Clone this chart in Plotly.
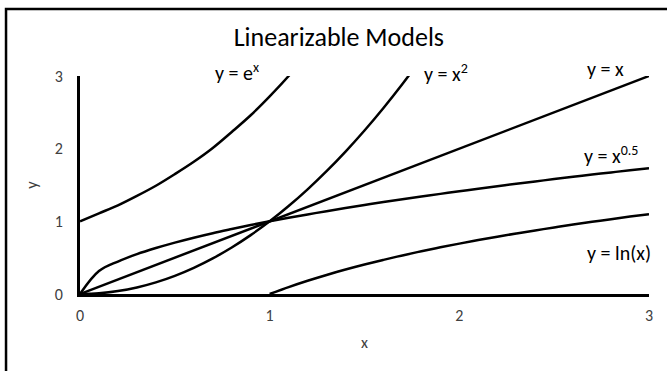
import plotly.graph_objects as go

# values
x_grid = [0.0, 0.1, 0.2, 0.3, 0.4, 0.5, 0.6, 0.7, 0.8, 0.9, 1.0,
          1.1, 1.2, 1.3, 1.4, 1.5, 1.6, 1.7, 1.8, 1.9, 2.0,
          2.1, 2.2, 2.3, 2.4, 2.5, 2.6, 2.7, 2.8, 2.9, 3.0]
y_exp = [1.00, 1.11, 1.22, 1.35, 1.49, 1.65, 1.82, 2.01, 2.23, 2.46, 2.72,
         3.00, 3.32]
y_sq = [0.00, 0.01, 0.04, 0.09, 0.16, 0.25, 0.36, 0.49, 0.64, 0.81, 1.00,
        1.21, 1.44, 1.69, 1.96, 2.25, 2.56, 2.89, 3.24]
x_lin = [0.0, 3.0]
y_lin = [0.0, 3.0]
y_sqrt = [0.000, 0.316, 0.447, 0.548, 0.632, 0.707, 0.775, 0.837, 0.894, 0.949, 1.000,
          1.049, 1.095, 1.140, 1.183, 1.225, 1.265, 1.304, 1.342, 1.378, 1.414,
          1.449, 1.483, 1.517, 1.549, 1.581, 1.612, 1.643, 1.673, 1.703, 1.732]
x_ln = x_grid[10:]
y_ln = [0.000, 0.095, 0.182, 0.262, 0.336, 0.405, 0.470, 0.531, 0.588, 0.642, 0.693,
        0.742, 0.788, 0.833, 0.875, 0.916, 0.956, 0.993, 1.030, 1.065, 1.099]

labels = ["y = e<sup>x</sup>", "y = x<sup>2</sup>", "y = x", "y = x<sup>0.5</sup>", "y = ln(x)"]

font = "Carlito, Lato, sans-serif"

fig = go.Figure()
series = [
    (x_grid[:len(y_exp)], y_exp),
    (x_grid[:len(y_sq)], y_sq),
    (x_lin, y_lin),
    (x_grid, y_sqrt),
    (x_ln, y_ln),
]
for xs, ys in series:
    fig.add_trace(go.Scatter(x=xs, y=ys, mode="lines",
                             line=dict(color="black", width=2.5, shape="spline"),
                             showlegend=False, hoverinfo="skip"))

# curve labels: the top three sit just above the plot area (paper y)
label_pos = [
    (0.83, 1.018, "paper"),
    (1.93, 1.014, "paper"),
    (2.77, 1.032, "paper"),
    (2.80, 1.91, "y"),
    (2.84, 0.56, "y"),
]
for t, (lx, ly, yr) in zip(labels, label_pos):
    fig.add_annotation(x=lx, y=ly, xref="x", yref=yr, text=t, showarrow=False,
                       font=dict(size=20, color="black", family=font),
                       xanchor="center", yanchor="middle")

# outer chart border (cropped at right and bottom in the reference)
fig.add_shape(type="rect", xref="paper", yref="paper",
              x0=-0.130, x1=1.2, y0=-0.6, y1=1.307,
              line=dict(color="black", width=2.5))

fig.update_layout(
    width=667, height=371,
    margin=dict(l=80, r=18, t=76, b=77),
    paper_bgcolor="white", plot_bgcolor="white",
    font=dict(family=font, size=16, color="#404040"),
    title=dict(text="Linearizable Models", x=0.508, y=0.90,
               xanchor="center", yanchor="middle", xref="container", yref="container",
               font=dict(size=26, color="black", family=font)),
)
fig.update_xaxes(range=[0, 3], tickvals=[0, 1, 2, 3], showgrid=False, zeroline=False,
                 showline=True, linewidth=3, linecolor="black", ticks="",
                 ticklabelstandoff=5,
                 title=dict(text="x", standoff=13, font=dict(size=16, color="#404040")))
fig.update_yaxes(range=[0, 3], tickvals=[0, 1, 2, 3], showgrid=False, zeroline=False,
                 showline=True, linewidth=3, linecolor="black", ticks="",
                 ticklabelstandoff=11,
                 title=dict(text="y", standoff=14, font=dict(size=16, color="#404040")))

# drop the default body margin so the figure fills the window exactly
fig.write_html("out.html", config={"displayModeBar": False},
               post_script="document.body.style.margin = '0';")
